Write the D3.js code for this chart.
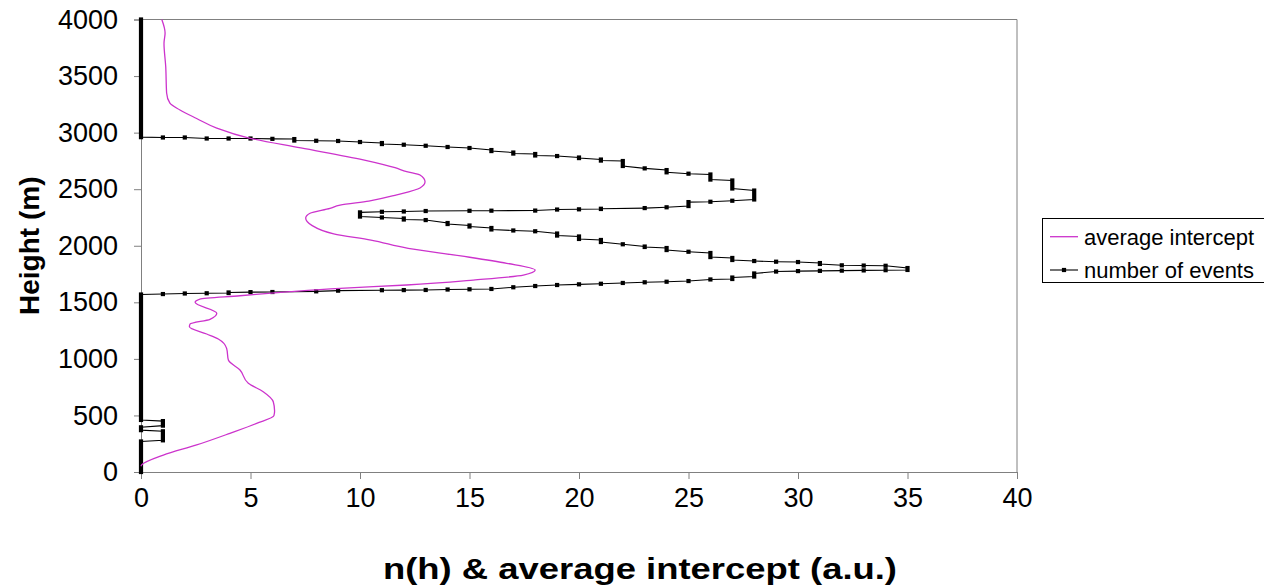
<!DOCTYPE html>
<html><head><meta charset="utf-8">
<script src="https://cdn.jsdelivr.net/npm/d3@7"></script>
<style>
body{margin:0;background:#fff;}
svg{display:block;font-family:Arial,"Liberation Sans",sans-serif;}
</style>
</head><body>
<svg id="chart" width="1264" height="587"></svg>
<script>
// ---- data ----
const xTicks = [0, 5, 10, 15, 20, 25, 30, 35, 40];
const yTicks = [0, 500, 1000, 1500, 2000, 2500, 3000, 3500, 4000];
const seriesNames = ["average intercept", "number of events"];

// average intercept (a.u.) vs height (m)
const interceptHeights = [4000,3880,3790,3580,3350,3260,3200,3125,3040,2950,2865,2760,2690,2655,2625,2565,2510,2450,2395,2360,2330,2287,2245,2180,2105,2050,1977,1910,1845,1785,1741,1697,1653,1624,1594,1558,1529,1500,1403,1350,1308,1284,1220,1176,1093,990,902,784,710,621,540,498,430,342,239,150,62,50];
const interceptValues  = [0.95,1.10,1.05,1.13,1.17,1.32,1.78,2.54,3.46,4.98,7.3,10.15,11.6,12.13,12.74,12.97,12.74,11.68,10.4,9.09,8.63,7.72,7.52,7.8,8.8,10.5,12.2,14.6,16.7,18.0,17.46,15.17,12.13,9.09,6.8,4.52,2.69,2.47,3.46,3.15,2.24,2.21,3.0,3.53,3.91,3.99,4.52,4.9,5.58,6.04,6.1,6.07,5.28,4.06,2.54,1.02,0.03,0.0];

// number of events n(h): each entry is a run of equal count between two heights (m)
const eventCounts = [0,1,2,3,4,5,6,7,8,9,10,11,12,13,14,15,16,17,18,19,20,21,22,23,24,25,26,27,28,
  27,26,25,24,23,21,20,19,18,16,15,13,12,11,
  10,
  11,12,13,14,15,16,17,18,19,20,21,22,23,24,25,26,27,28,29,30,31,32,33,34,35,
  34,33,32,31,30,29,28,27,26,25,24,23,22,21,20,19,18,17,16,15,14,13,12,11,
  9,8,6,5,4,3,2,1,
  0,1,0,1,0];
const eventTopHeights = [4000,2957,2957,2948,2948,2948,2945,2943,2928,2926,2917,2908,2893,2884,2873,2864,2846,2824,2811,2793,2780,2762,2749,2684,2669,2637,2630,2577,2488,
  2398,2389,2386,2340,2333,2327,2322,2320,2311,2310,2309,2307,2303,2300,
  2295,
  2250,2241,2227,2201,2179,2157,2135,2128,2108,2082,2051,2013,1993,1980,1947,1936,1892,1865,1859,1856,1847,1827,1825,1823,1803,
  1784,1782,1780,1778,1776,1772,1755,1719,1702,1688,1682,1677,1671,1664,1659,1653,1644,1633,1618,1615,1613,1609,1608,1607,
  1603,1597,1591,1590,1587,1580,1578,1573,
  1569,450,395,360,270];
const eventBottomHeights = [2960,2957,2957,2948,2948,2948,2945,2930,2928,2926,2917,2899,2893,2884,2873,2864,2837,2815,2798,2793,2775,2753,2705,2684,2649,2637,2585,2506,2409,
  2398,2389,2351,2340,2333,2325,2322,2320,2311,2310,2309,2307,2303,2300,
  2258,
  2250,2232,2227,2192,2170,2144,2135,2128,2090,2060,2033,2013,1989,1962,1947,1900,1874,1865,1859,1856,1839,1827,1825,1823,1786,
  1784,1782,1780,1778,1776,1772,1728,1706,1702,1688,1682,1677,1671,1664,1659,1653,1644,1633,1618,1615,1613,1609,1608,1607,
  1603,1597,1591,1590,1582,1580,1578,1573,
  460,410,370,280,0];

// ---- layout ----
const svg = d3.select("#chart");
const plot = {left: 141, right: 1017, top: 19.5, bottom: 472};
const x = d3.scaleLinear().domain([0, 40]).range([plot.left, plot.right]);
const y = d3.scaleLinear().domain([0, 4000]).range([plot.bottom, plot.top]);
const MAGENTA = "#cc33cc";
const AXIS = "#808080";

// plot border (top/right)
svg.append("path")
  .attr("d", `M${plot.left},${plot.top}H${plot.right}V${plot.bottom}`)
  .attr("fill", "none").attr("stroke", AXIS).attr("stroke-width", 1);

// axes
const yAxis = d3.axisLeft(y).tickValues(yTicks).tickSize(7).tickPadding(16).tickFormat(d3.format("d"));
const gy = svg.append("g").attr("transform", `translate(${plot.left},0)`).call(yAxis);
const xAxis = d3.axisBottom(x).tickValues(xTicks).tickSize(7).tickPadding(9).tickFormat(d3.format("d"));
const gx = svg.append("g").attr("transform", `translate(0,${plot.bottom})`).call(xAxis);
[gx, gy].forEach(g => {
  g.select(".domain").attr("stroke", AXIS).attr("stroke-width", 1);
  g.selectAll(".tick line").attr("stroke", AXIS);
  g.selectAll(".tick text").attr("fill", "#000").style("font-size", "27px")
    .style("font-family", "Arial, 'Liberation Sans', sans-serif");
});

// number of events series
const evPts = [];
eventCounts.forEach((n, i) => {
  evPts.push([n, eventTopHeights[i]]);
  if (eventBottomHeights[i] !== eventTopHeights[i]) evPts.push([n, eventBottomHeights[i]]);
});
svg.append("path")
  .datum(evPts)
  .attr("fill", "none").attr("stroke", "#000").attr("stroke-width", 1.1)
  .attr("d", d3.line().x(d => x(d[0])).y(d => y(d[1])));
const ms = 2.1;
svg.append("g").selectAll("rect")
  .data(eventCounts.map((n, i) => ({n, top: eventTopHeights[i], bot: eventBottomHeights[i]})))
  .join("rect")
  .attr("x", d => x(d.n) - ms)
  .attr("y", d => y(d.top) - ms)
  .attr("width", 2 * ms)
  .attr("height", d => y(d.bot) - y(d.top) + 2 * ms)
  .attr("fill", "#000");

// average intercept series
svg.append("path")
  .datum(interceptHeights.map((h, i) => [interceptValues[i], h]))
  .attr("fill", "none").attr("stroke", MAGENTA).attr("stroke-width", 1.3)
  .attr("d", d3.line().x(d => x(d[0])).y(d => y(d[1])).curve(d3.curveMonotoneY));

// axis titles
svg.append("text")
  .attr("transform", `translate(39,${(plot.top + plot.bottom) / 2}) rotate(-90)`)
  .attr("text-anchor", "middle")
  .style("font-size", "28px").style("font-weight", "bold")
  .text("Height (m)");
svg.append("text")
  .attr("x", 383).attr("y", 579)
  .attr("textLength", 514).attr("lengthAdjust", "spacingAndGlyphs")
  .style("font-size", "30px").style("font-weight", "bold")
  .text("n(h) & average intercept (a.u.)");

// legend
const lg = svg.append("g");
lg.append("rect").attr("x", 1042.5).attr("y", 218.5).attr("width", 260).attr("height", 64)
  .attr("fill", "#fff").attr("stroke", "#000").attr("stroke-width", 1);
const rows = [236.7, 270];
lg.append("line").attr("x1", 1050).attr("x2", 1078).attr("y1", rows[0]).attr("y2", rows[0])
  .attr("stroke", MAGENTA).attr("stroke-width", 1.3);
lg.append("line").attr("x1", 1050).attr("x2", 1078).attr("y1", rows[1]).attr("y2", rows[1])
  .attr("stroke", "#000").attr("stroke-width", 1.1);
lg.append("rect").attr("x", 1064 - ms).attr("y", rows[1] - ms).attr("width", 2 * ms).attr("height", 2 * ms).attr("fill", "#000");
seriesNames.forEach((s, i) => {
  lg.append("text").attr("x", 1084).attr("y", rows[i] + 7.8)
    .style("font-size", "22px").text(s);
});
</script>
</body></html>
